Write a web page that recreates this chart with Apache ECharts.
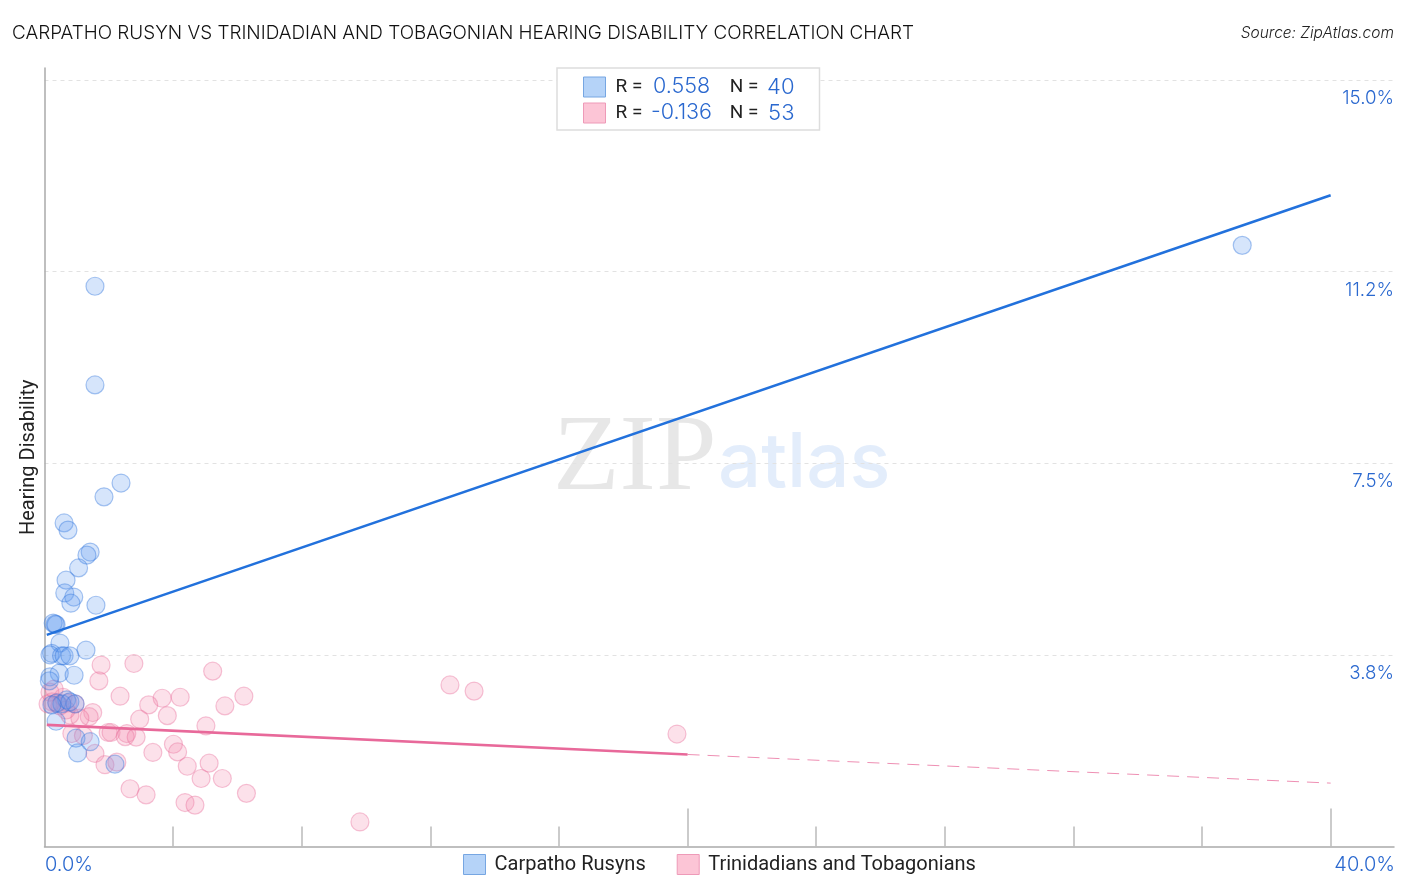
<!DOCTYPE html>
<html><head><meta charset="utf-8">
<style>html,body{margin:0;padding:0;background:#fff}#c{width:1406px;height:892px}</style>
<script src="https://cdn.jsdelivr.net/npm/echarts@6/dist/echarts.min.js"></script>
</head><body><div id="c"></div>
<script>
const titleText = "CARPATHO RUSYN VS TRINIDADIAN AND TOBAGONIAN HEARING DISABILITY CORRELATION CHART";
const sourceText = "Source: ZipAtlas.com";
const yAxisName = "Hearing Disability";
const seriesNames = ["Carpatho Rusyns", "Trinidadians and Tobagonians"];
const rValues = ["0.558", "-0.136"];
const nValues = ["40", "53"];
const yTicks = [3.75, 7.5, 11.25, 15];
const yTickLabels = ["3.8%", "7.5%", "11.2%", "15.0%"];
const xMinorTicks = [4, 8, 12, 16, 20, 24, 28, 32, 36, 40];
const xMajorTicks = [20, 40];
const xLabelTicks = [0, 40];
const xTickLabels = ["0.0%", "40.0%"];
const bluePoints = [
 [37.25,11.76],[1.57,10.96],[1.57,9.03],[2.38,7.11],[1.85,6.84],[0.61,6.33],[0.73,6.19],[1.42,5.76],
 [1.32,5.70],[1.06,5.45],[0.67,5.21],[0.63,4.96],[0.91,4.88],[0.82,4.76],[1.60,4.72],[0.33,4.35],
 [0.27,4.37],[0.36,4.34],[0.48,3.98],[1.29,3.84],[0.22,3.78],[0.17,3.75],[0.53,3.73],[0.61,3.73],
 [0.79,3.73],[0.46,3.39],[0.92,3.35],[0.17,3.32],[0.15,3.24],[0.38,2.81],[0.69,2.87],[0.95,2.79],
 [0.36,2.45],[0.98,2.12],[1.42,2.05],[1.03,1.83],[2.19,1.61],[0.54,2.79],[0.79,2.83],[0.23,2.77]
];
const pinkPoints = [
 [1.76,3.55],[2.78,3.58],[5.23,3.43],[1.69,3.24],[2.35,2.94],[3.66,2.90],[4.22,2.92],[6.20,2.94],
 [3.24,2.77],[5.61,2.75],[3.82,2.56],[2.96,2.49],[5.02,2.36],[1.50,2.62],[1.39,2.54],[1.98,2.23],
 [2.07,2.23],[2.56,2.21],[2.51,2.15],[2.85,2.14],[4.01,2.00],[4.14,1.85],[3.37,1.84],[1.57,1.82],
 [4.44,1.57],[5.12,1.63],[4.87,1.33],[5.53,1.33],[1.88,1.60],[2.25,1.65],[2.66,1.13],[3.16,1.01],
 [4.37,0.86],[4.68,0.81],[6.28,1.04],[0.85,2.21],[1.21,2.17],[0.79,2.57],[1.10,2.51],[0.23,2.83],
 [0.39,2.81],[0.58,2.92],[0.73,2.81],[0.17,3.02],[0.11,2.79],[9.81,0.48],[12.61,3.16],[13.36,3.04],
 [19.67,2.20],[0.48,2.75],[0.30,3.08],[0.67,2.67],[0.95,2.79]
];
const blueTrend = [[0.07,4.14],[40,12.74]];
const pinkTrendSolid = [[0.07,2.38],[20,1.80]];
const pinkTrendDashed = [[20,1.80],[40,1.24]];

const BLUE_TEXT = "#2a68cf", DARK = "#222";
const FONT = "Roboto", NUMFONT = "Inter";
const chart = echarts.init(document.getElementById('c'), null, {renderer:'canvas'});
const lineSeries = (name, data, color, width, type, opacity) => ({
  name, type:'line', data, symbol:'none', silent:true, z:5,
  lineStyle:{color, width, type, opacity}
});
const swatch = [
  {color:'#b5d3f8', borderColor:'#76a6e2', borderWidth:1, opacity:1},
  {color:'#fcc5d6', borderColor:'#ee9ab8', borderWidth:1, opacity:1}
];
chart.setOption({
  animation:false,
  backgroundColor:'#fff',
  textStyle:{fontFamily:FONT},
  title:[
    {text:titleText, left:12, top:24, padding:0, textStyle:{fontFamily:NUMFONT, fontSize:18.9, fontWeight:300, color:'#111'}},
    {text:sourceText, right:12, top:25, padding:0, textStyle:{fontFamily:NUMFONT, fontSize:15.5, fontWeight:300, fontStyle:'italic', color:'#222'}}
  ],
  grid:{left:44.5, right:12, top:68, bottom:45.5, containLabel:false},
  legend:[
    {
      data:seriesNames.map((name,i)=>({name, icon:'rect', itemStyle:swatch[i]})),
      selectedMode:false, orient:'vertical', left:557, top:68, z:20,
      padding:[8,25,6,26], itemGap:4, itemWidth:22, itemHeight:20,
      backgroundColor:'#fff', borderColor:'#ddd', borderWidth:1.5,
      formatter:name=>{const i=seriesNames.indexOf(name);return `{r|R = }{v|${rValues[i]}}{n|N = }{c|${nValues[i]}}`;},
      textStyle:{padding:[0,0,0,5],rich:{
        r:{fontFamily:FONT,fontSize:19,lineHeight:20,color:DARK,width:35},
        v:{fontFamily:NUMFONT,fontWeight:300,fontSize:21.5,lineHeight:20,color:BLUE_TEXT,width:62,align:'right'},
        n:{fontFamily:FONT,fontSize:19,lineHeight:20,color:DARK,width:30,padding:[0,0,0,19]},
        c:{fontFamily:NUMFONT,fontWeight:300,fontSize:22,lineHeight:20,color:BLUE_TEXT,width:33,align:'right'}
      }}
    },
    {
      data:seriesNames.map((name,i)=>({name, icon:'rect', itemStyle:swatch[i]})),
      selectedMode:false, orient:'horizontal', left:463, top:854, padding:0, itemGap:31,
      itemWidth:22, itemHeight:20,
      textStyle:{fontFamily:FONT, fontSize:20, color:DARK, padding:[0,0,0,4]}
    }
  ],
  xAxis:[
    {type:'value', min:0, max:41.97, position:'bottom',
     axisLine:{show:true, lineStyle:{color:'#aaa', width:1.5}},
     splitLine:{show:false},
     axisTick:{show:true, inside:true, length:20, customValues:xMinorTicks, lineStyle:{color:'#bbb', width:1.5}},
     axisLabel:{show:true, customValues:xLabelTicks, margin:8,
       formatter:v=>{const i=xLabelTicks.indexOf(v);return `{${i?'b':'a'}|${xTickLabels[i]}}`;},
       rich:{
         a:{fontFamily:NUMFONT,fontWeight:300,fontSize:20,color:BLUE_TEXT,padding:[0,0,0,49]},
         b:{fontFamily:NUMFONT,fontWeight:300,fontSize:20,color:BLUE_TEXT,padding:[0,0,0,68]}
       }}},
    {type:'value', min:0, max:41.97, position:'bottom', axisLine:{show:false}, splitLine:{show:false}, axisLabel:{show:false},
     axisTick:{show:true, inside:true, length:38, customValues:xMajorTicks, lineStyle:{color:'#bbb', width:1.5}}}
  ],
  yAxis:[
    {type:'value', min:0, max:15.23, position:'left', name:yAxisName, nameLocation:'middle', nameGap:6,
     nameRotate:90, nameTextStyle:{fontFamily:FONT,fontSize:20,color:DARK},
     axisLine:{show:true,lineStyle:{color:'#aaa',width:1.5}}, axisTick:{show:false}, axisLabel:{show:false}, splitLine:{show:false}},
    {type:'value', min:0, max:15.23, position:'right', axisLine:{show:false}, axisTick:{show:false},
     splitLine:{show:false},
     axisLabel:{show:true, inside:true, margin:0, customValues:yTicks, verticalAlign:'top', align:'right',
       padding:[9,0,0,0], fontFamily:NUMFONT, fontWeight:300, fontSize:18.7, color:BLUE_TEXT,
       formatter:v=>yTickLabels[yTicks.indexOf(v)]}},
    {type:'value', min:0, max:15.23, position:'left', axisLine:{show:false}, axisTick:{show:false}, axisLabel:{show:false},
     splitLine:{show:true, showMinLine:false, showMaxLine:false, lineStyle:{color:'#e2e2e2', type:[4,4], width:1}},
     interval:3.75}
  ],
  series:[
    {name:seriesNames[1], type:'scatter', data:pinkPoints, symbolSize:18, clip:true, z:2,
     itemStyle:{color:'rgba(245,140,175,0.32)', borderColor:'rgba(232,110,155,0.5)', borderWidth:1.2}},
    {name:seriesNames[0], type:'scatter', data:bluePoints, symbolSize:18, clip:true, z:3,
     itemStyle:{color:'rgba(95,155,240,0.32)', borderColor:'rgba(45,115,220,0.5)', borderWidth:1.2}},
    lineSeries('blueTrend', blueTrend, '#2271dc', 2.6, 'solid', 1),
    lineSeries('pinkTrend', pinkTrendSolid, '#e8699a', 2.6, 'solid', 1),
    lineSeries('pinkTrendExt', pinkTrendDashed, '#e8699a', 1, [12,8], 0.75)
  ],
  graphic:[
    {type:'text', z:0, silent:true, left:553, top:406, style:{text:'ZIP', fontFamily:'Liberation Serif', fontSize:109, fill:'rgba(120,120,120,0.18)'}},
    {type:'text', z:0, silent:true, left:718, top:426, style:{text:'atlas', fontFamily:'Inter', fontWeight:500, fontSize:76, fill:'rgba(90,150,230,0.17)'}}
  ]
});
</script></body></html>
